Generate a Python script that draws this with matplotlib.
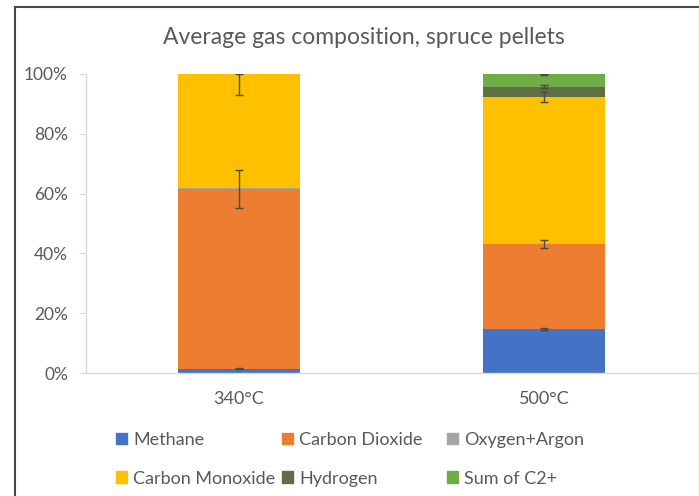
import numpy as np
import matplotlib.pyplot as plt
from matplotlib.patches import Patch, Rectangle

plt.rcParams['font.family'] = ['Lato', 'DejaVu Sans']

categories = ["340°C", "500°C"]
series = ["Methane", "Carbon Dioxide", "Oxygen+Argon",
          "Carbon Monoxide", "Hydrogen", "Sum of C2+"]
colors = ["#4472C4", "#ED7D31", "#A5A5A5", "#FFC000", "#5F6E45", "#70AD47"]

# percent of total gas, per category
methane = [1.5, 14.6]
carbon_dioxide = [60.0, 28.6]
oxygen_argon = [0.3, 0.0]
carbon_monoxide = [38.2, 49.0]
hydrogen = [0.0, 3.6]
c2_plus = [0.0, 4.2]

# error bars (lower, upper)
err_methane = [[0.3, 0.3], [0.3, 0.3]]
err_co2 = [[6.4, 1.3], [6.4, 1.3]]
err_co = [[7.0, 1.7], [0.0, 1.7]]
err_h2 = [[0.0, 0.4], [0.0, 0.4]]
err_c2 = [[0.0, 0.4], [0.0, 0.0]]

values = [methane, carbon_dioxide, oxygen_argon, carbon_monoxide, hydrogen, c2_plus]
errors = [err_methane, err_co2, None, err_co, err_h2, err_c2]

text_color = "#595959"

fig = plt.figure(figsize=(6.99, 4.96), dpi=100)
ax = fig.add_axes([86 / 699, 1 - 373 / 496, 611 / 699, 299 / 496])

x = np.arange(len(categories))
bottom = np.zeros(len(categories))
for name, vals, col, err in zip(series, values, colors, errors):
    vals = np.array(vals) / 100
    ax.bar(x, vals, 0.4, bottom=bottom, color=col, label=name, zorder=2)
    top = bottom + vals
    if err is not None:
        e = np.array(err) / 100
        mask = vals > 0
        ax.errorbar(x[mask], top[mask], yerr=e[:, mask], fmt="none",
                    ecolor="#4A4A40", elinewidth=1, capsize=3, capthick=1,
                    zorder=3)
    bottom = top

ax.set_xlim(-0.5, 1.5)
ax.set_ylim(0, 1.0)
ax.set_yticks(np.arange(0, 1.01, 0.2))
ax.set_yticklabels([f"{int(v * 100)}%" for v in np.arange(0, 1.01, 0.2)])
ax.set_xticks(x)
ax.set_xticklabels(categories)
ax.tick_params(axis="y", colors="#D9D9D9", labelcolor=text_color,
               labelsize=12.5, length=5, pad=8)
ax.tick_params(axis="x", length=0, labelcolor=text_color, labelsize=13, pad=13)
for s in ["top", "right"]:
    ax.spines[s].set_visible(False)
for s in ["left", "bottom"]:
    ax.spines[s].set_color("#D9D9D9")
    ax.spines[s].set_linewidth(1)

fig.text(364 / 699, 1 - 38 / 496, "Average gas composition, spruce pellets",
         ha="center", va="center", fontsize=16.5, color=text_color)

# legend, laid out as three equal-width columns
col_x = [116 / 699, 282 / 699, 447 / 699]
for i, cx in enumerate(col_x):
    handles = [Patch(color=colors[i]), Patch(color=colors[i + 3])]
    labels = [series[i], series[i + 3]]
    leg = fig.legend(handles, labels, loc="upper left",
                     bbox_to_anchor=(cx, 1 - 432 / 496), frameon=False,
                     fontsize=13, handlelength=0.6, handleheight=0.6,
                     handletextpad=0.35, labelspacing=1.25, borderaxespad=0,
                     borderpad=0)
    for t in leg.get_texts():
        t.set_color(text_color)

# outer frame
fig.patches.append(Rectangle((15 / 699, -0.1), 1.0, 1 - 7 / 496 + 0.1,
                             transform=fig.transFigure, fill=False,
                             edgecolor="#4A4A3C", linewidth=1.5))

fig.savefig("out.png", dpi=100)
